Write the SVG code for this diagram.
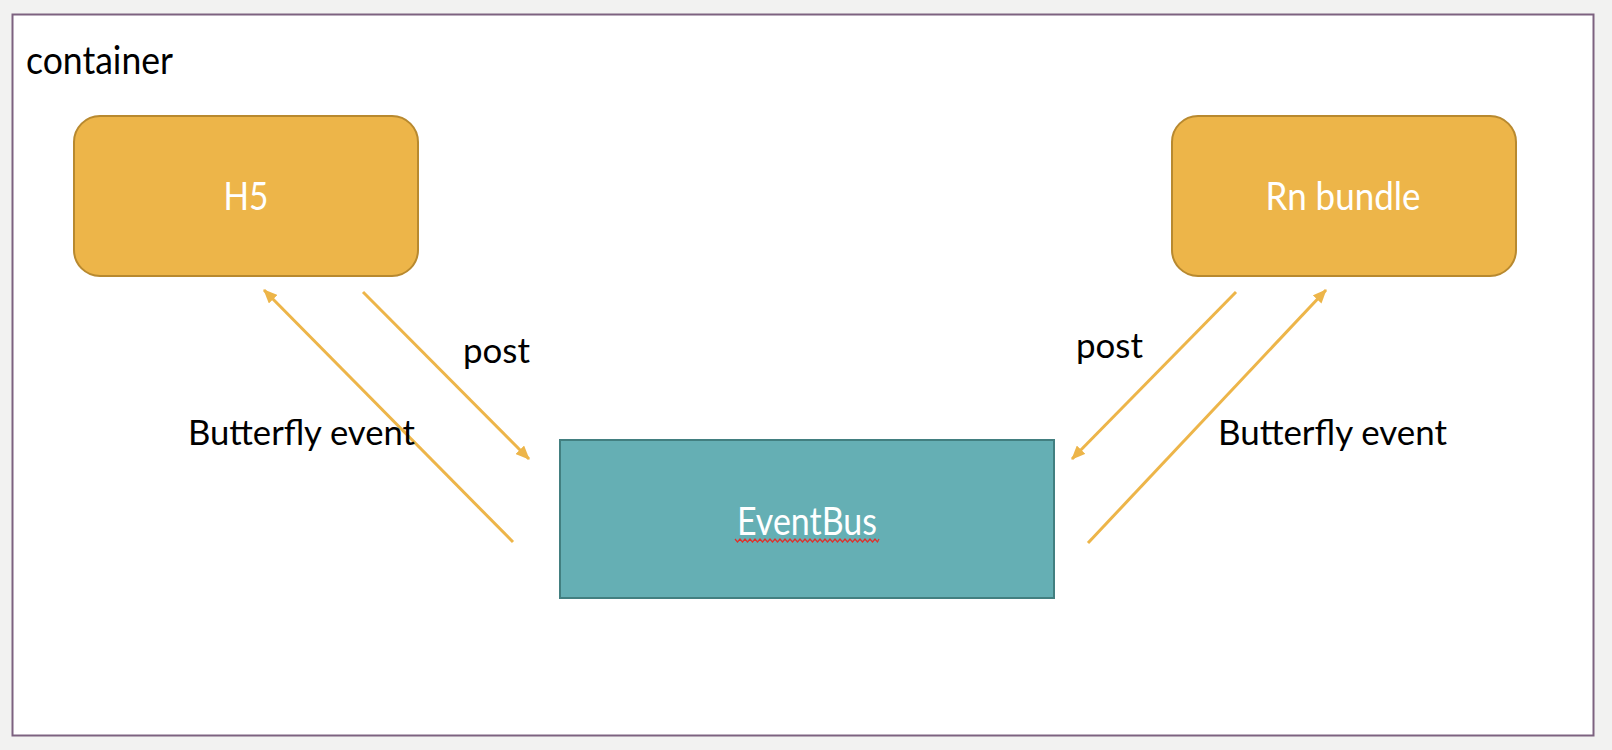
<svg xmlns="http://www.w3.org/2000/svg" width="1612" height="750" viewBox="0 0 1612 750">
  <style>
    .node { fill: #EDB549; stroke: #B8892F; stroke-width: 2; }
    .bus { fill: #65AFB4; stroke: #427F80; stroke-width: 2; }
    .ntext { font-family: Lato, "Open Sans", sans-serif; fill: #ffffff; text-anchor: middle; }
    .lbl { font-family: Lato, "Open Sans", sans-serif; fill: #000000; font-size: 35px; }
    .conn { stroke: #EDB549; stroke-width: 3; fill: none; marker-end: url(#arr); }
  </style>
  <defs>
    <marker id="arr" markerUnits="userSpaceOnUse" markerWidth="14" markerHeight="12" viewBox="0 0 14 12" refX="13" refY="6" orient="auto">
      <path d="M0,0 L14,6 L0,12 z" fill="#EDB549"/>
    </marker>
  </defs>
  <rect x="0" y="0" width="1612" height="750" fill="#F2F2F1"/>
  <g id="container">
    <rect x="12.5" y="14.5" width="1581" height="721" fill="#ffffff" stroke="#7D6280" stroke-width="2"/>
    <text x="26" y="74" font-family="Lato, 'Open Sans', sans-serif" font-size="38" textLength="147" lengthAdjust="spacingAndGlyphs" fill="#000">container</text>
  </g>
  <g id="h5">
    <rect class="node" x="74" y="116" width="344" height="160" rx="26" ry="26"/>
    <text class="ntext" x="246" y="210" font-size="39" textLength="45" lengthAdjust="spacingAndGlyphs">H5</text>
  </g>
  <g id="rn-bundle">
    <rect class="node" x="1172" y="116" width="344" height="160" rx="26" ry="26"/>
    <text class="ntext" x="1343" y="210" font-size="39" textLength="155" lengthAdjust="spacingAndGlyphs">Rn bundle</text>
  </g>
  <g id="eventbus">
    <rect class="bus" x="560" y="440" width="494" height="158"/>
    <text class="ntext" x="807" y="535" font-size="38" textLength="140" lengthAdjust="spacingAndGlyphs">EventBus</text>
    <polyline points="735,539 737.5,542 740,539 742.5,542 745,539 747.5,542 750,539 752.5,542 755,539 757.5,542 760,539 762.5,542 765,539 767.5,542 770,539 772.5,542 775,539 777.5,542 780,539 782.5,542 785,539 787.5,542 790,539 792.5,542 795,539 797.5,542 800,539 802.5,542 805,539 807.5,542 810,539 812.5,542 815,539 817.5,542 820,539 822.5,542 825,539 827.5,542 830,539 832.5,542 835,539 837.5,542 840,539 842.5,542 845,539 847.5,542 850,539 852.5,542 855,539 857.5,542 860,539 862.5,542 865,539 867.5,542 870,539 872.5,542 875,539 877.5,542 879,539" fill="none" stroke="#E0302A" stroke-width="1.2"/>
  </g>
  <g id="connectors">
    <line class="conn" x1="513" y1="542" x2="264" y2="290"/>
    <line class="conn" x1="363" y1="292" x2="529" y2="459"/>
    <line class="conn" x1="1236" y1="292" x2="1072" y2="459"/>
    <line class="conn" x1="1088" y1="543" x2="1326" y2="290"/>
  </g>
  <g id="labels">
    <text class="lbl" x="463" y="363" textLength="67" lengthAdjust="spacingAndGlyphs">post</text>
    <text class="lbl" x="188" y="445" textLength="227" lengthAdjust="spacingAndGlyphs">Butterfly event</text>
    <text class="lbl" x="1076" y="358" textLength="67" lengthAdjust="spacingAndGlyphs">post</text>
    <text class="lbl" x="1218" y="445" textLength="229" lengthAdjust="spacingAndGlyphs">Butterfly event</text>
  </g>
</svg>
